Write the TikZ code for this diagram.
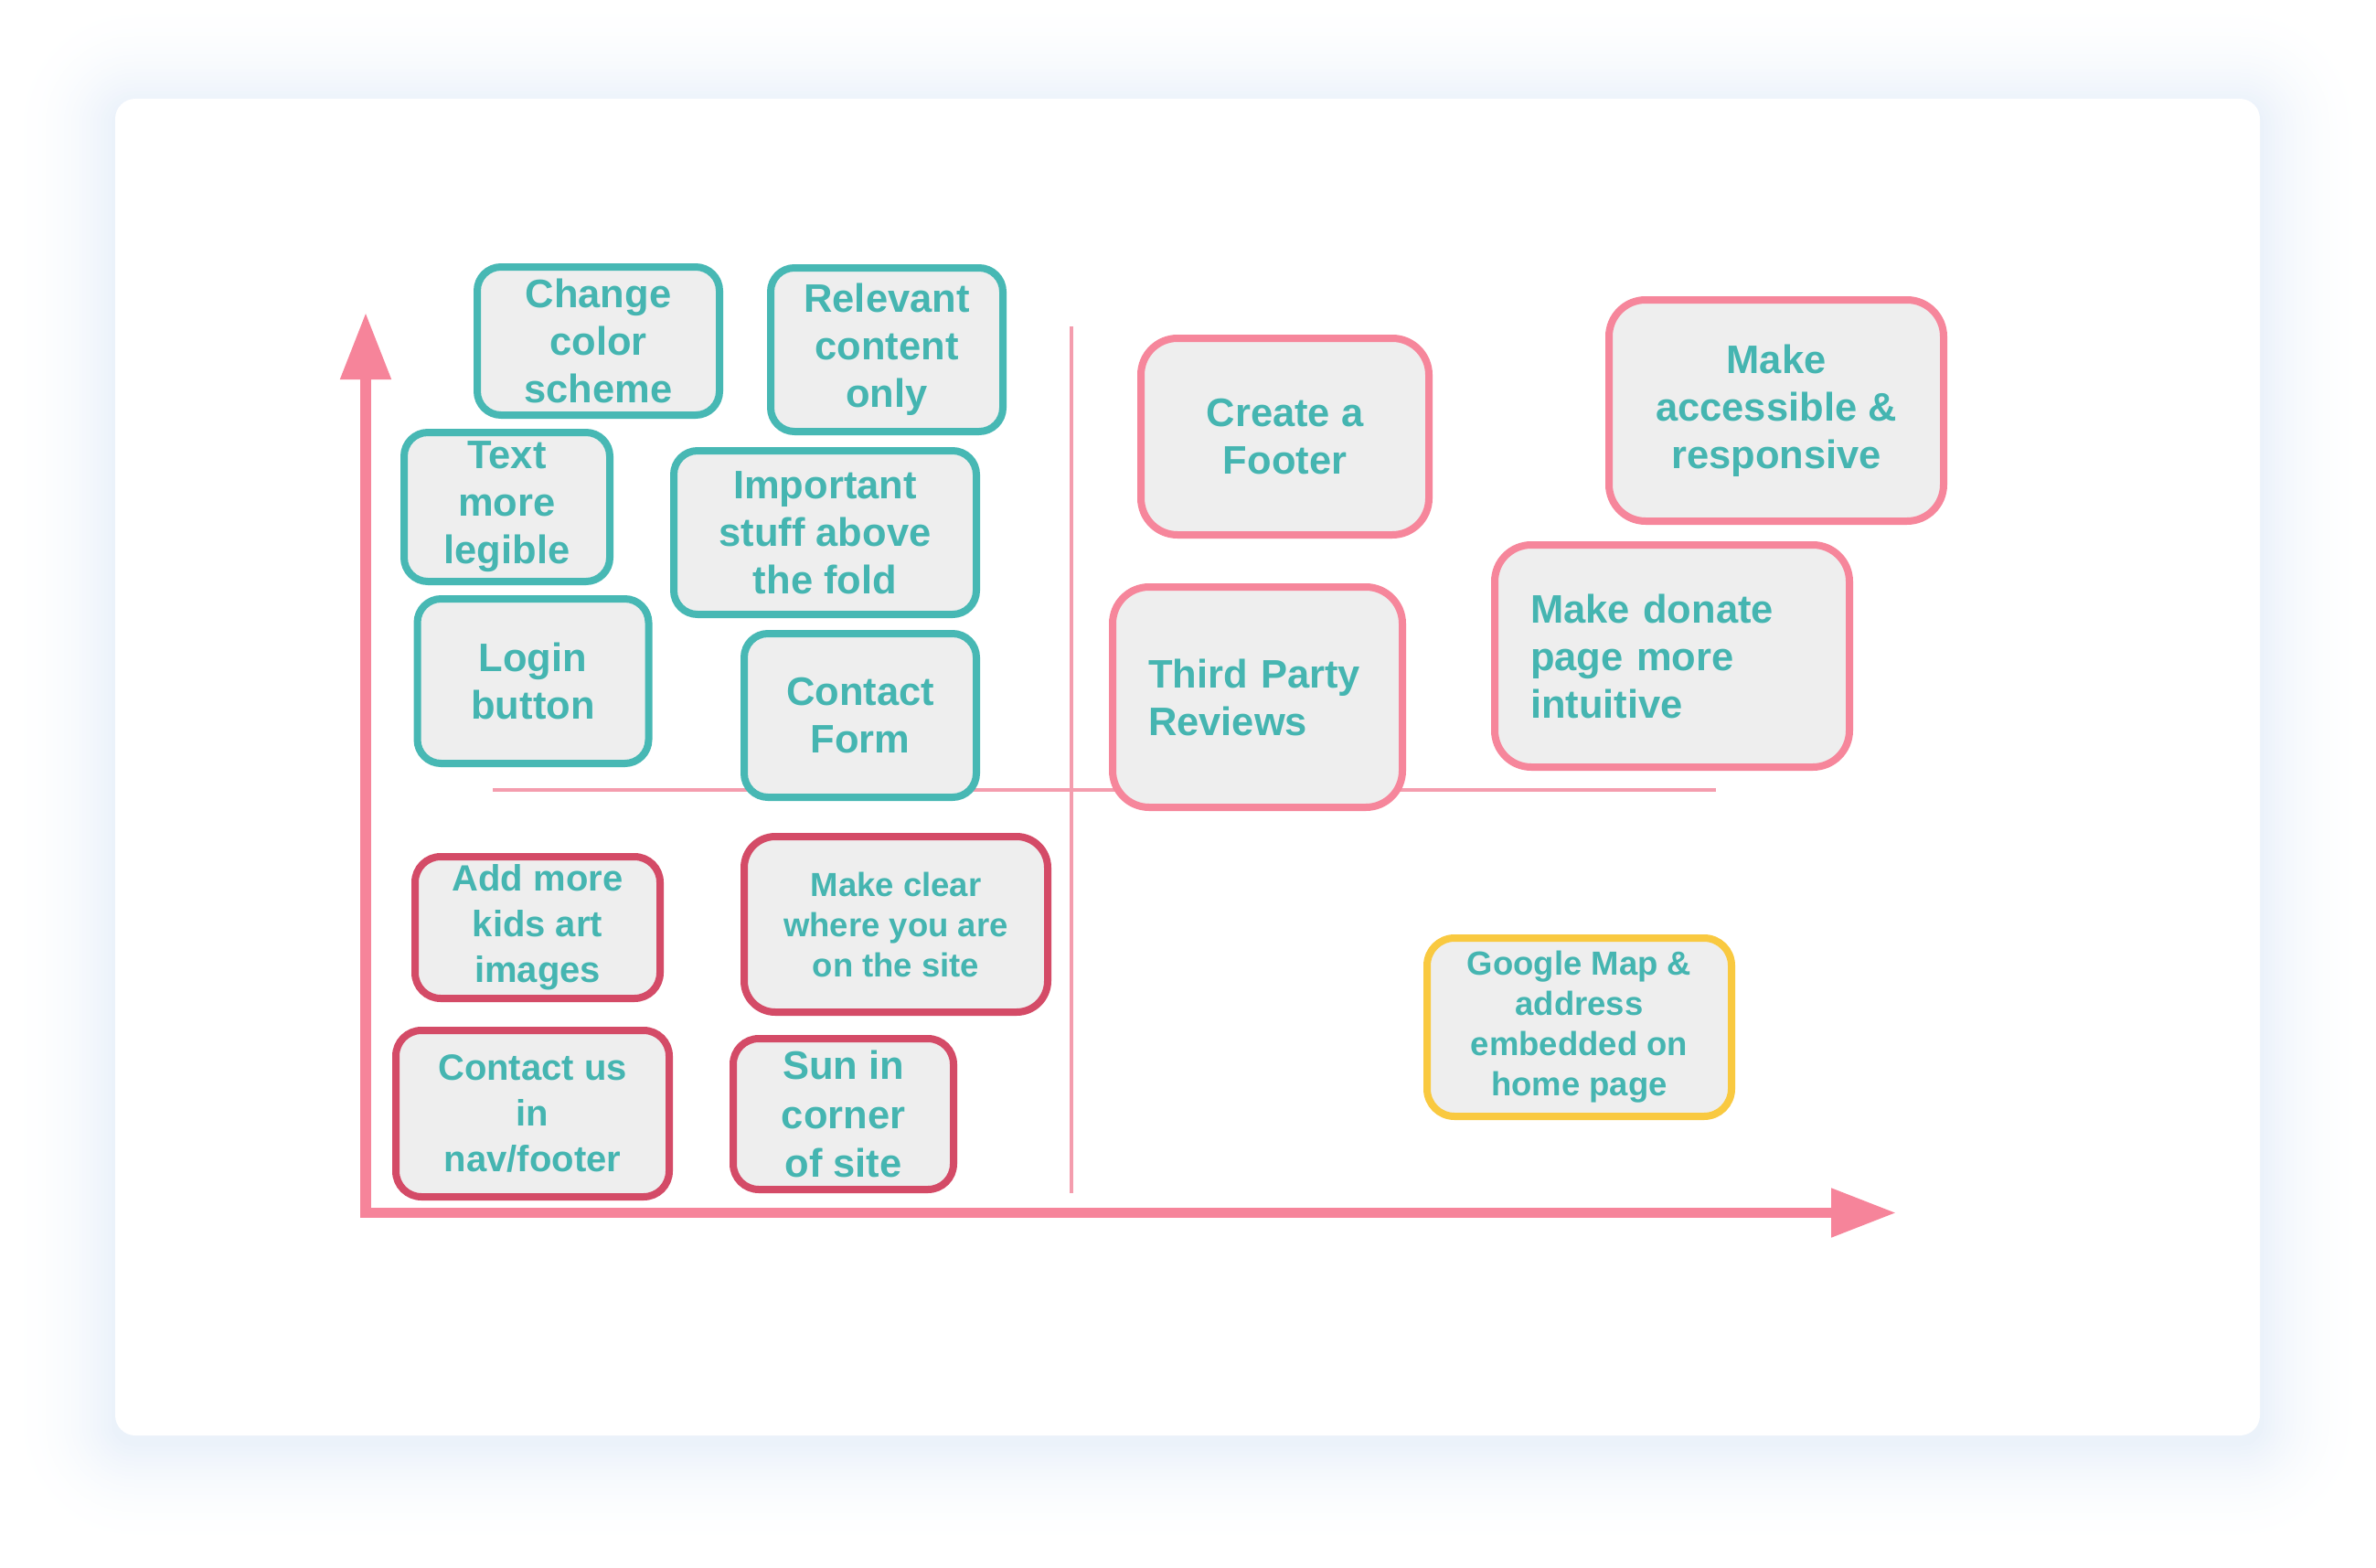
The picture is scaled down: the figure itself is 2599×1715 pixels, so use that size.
\documentclass[tikz,border=0pt]{standalone}
\usepackage{fontspec}
\setmainfont{Liberation Sans}
\usetikzlibrary{arrows.meta}
\definecolor{tealc}{HTML}{47B8B4}
\definecolor{tealtxt}{HTML}{45B5B1}
\definecolor{pinkc}{HTML}{F6869B}
\definecolor{redc}{HTML}{D44B67}
\definecolor{yellowc}{HTML}{F9C940}
\definecolor{boxfill}{HTML}{EEEEEE}
\definecolor{axisc}{HTML}{F6849A}
\definecolor{quadc}{HTML}{F49DAE}
\definecolor{shadowedge}{HTML}{EAF1FA}
\begin{document}
\begin{tikzpicture}[x=1pt,y=-1pt,
  box/.style={draw, line width=8pt, fill=boxfill, inner sep=0pt, align=center,
    text=tealtxt, font=\bfseries\fontsize{43.5}{52}\selectfont},
  tealbox/.style={box, draw=tealc, rounded corners=26pt},
  pinkbox/.style={box, draw=pinkc, rounded corners=40pt},
  redbox/.style={box, draw=redc, rounded corners=28pt},
  yellowbox/.style={box, draw=yellowc, rounded corners=30pt},
  midfont/.style={font=\bfseries\fontsize{40}{50}\selectfont},
  smallfont/.style={font=\bfseries\fontsize{36.5}{44}\selectfont},
  axis/.style={draw=axisc, line width=11.5pt, line join=miter},
  quad/.style={draw=quadc, line width=3.2pt}
]
\useasboundingbox (0,0) rectangle (2599,1715);
\fill[white] (0,0) rectangle (2599,1715);
% soft shadow of the card (solid layers, fading outwards)
\foreach \j in {28,...,1} {
  \pgfmathsetmacro\p{100*(1-\j/29)^2}
  \pgfmathsetmacro\rr{22+\j*4}
  \fill[shadowedge!\p!white, rounded corners=\rr pt]
    (126-\j*4, 116-\j*4) rectangle (2472+\j*4, 1578+\j*4);
}
\fill[white, rounded corners=22pt] (126,108) rectangle (2472,1570);

% quadrant lines
\coordinate (vtop) at (1172,357);
\coordinate (vbot) at (1172,1305);
\coordinate (hleft) at (539,864);
\coordinate (hright) at (1877,864);
\draw[quad] (vtop) -- (vbot);
\draw[quad] (hleft) -- (hright);

% axes
\coordinate (ytip) at (400,342);
\coordinate (orig) at (400,1326.5);
\coordinate (xtip) at (2074,1326.5);
\draw[axis, {Triangle[length=73pt,width=53pt]}-{Triangle[length=71pt,width=51pt]}]
  (ytip) -- (orig) -- (xtip);

% teal boxes
\node[tealbox, minimum width=265pt, minimum height=162pt] (chg) at (654.5,373) {Change\\color\\scheme};
\node[tealbox, minimum width=254pt, minimum height=179pt] (rel) at (970,382.5) {Relevant\\content\\only};
\node[tealbox, minimum width=225pt, minimum height=163pt] (txt) at (554.5,554.5) {Text\\more\\legible};
\node[tealbox, minimum width=331pt, minimum height=179pt] (imp) at (902.5,582.5) {Important\\stuff above\\the fold};
\node[tealbox, minimum width=253pt, minimum height=180pt] (login) at (583,745) {Login\\button};
\node[tealbox, minimum width=254pt, minimum height=179pt] (cform) at (941,782.5) {Contact\\Form};

% pink boxes
\node[pinkbox, minimum width=315pt, minimum height=215pt] (foot) at (1405.5,477.5) {Create a\\Footer};
\node[pinkbox, minimum width=366pt, minimum height=242pt] (acc) at (1943,449) {Make\\accessible \&\\responsive};
\node[pinkbox, minimum width=317pt, minimum height=241pt, align=left, text width=239pt] (third) at (1375.5,762.5) {Third Party\\Reviews};
\node[pinkbox, minimum width=388pt, minimum height=243pt, align=left, text width=310pt] (donate) at (1829,717.5) {Make donate\\page more\\intuitive};

% red boxes
\node[redbox, midfont, minimum width=268pt, minimum height=155pt] (kids) at (588,1014.5) {Add more\\kids art\\images};
\node[redbox, smallfont, rounded corners=34pt, minimum width=332pt, minimum height=192pt] (clear) at (980,1011) {Make clear\\where you are\\on the site};
\node[redbox, midfont, minimum width=299pt, minimum height=182pt] (cus) at (582.5,1218) {Contact us\\in\\nav/footer};
\node[redbox, font=\bfseries\fontsize{43.5}{53.5}\selectfont, minimum width=241pt, minimum height=165pt] (sun) at (922.5,1218.5) {Sun in\\corner\\of site};

% yellow box
\node[yellowbox, smallfont, minimum width=333pt, minimum height=195pt] (gmap) at (1727.5,1123.5) {Google Map \&\\address\\embedded on\\home page};
\end{tikzpicture}
\end{document}
